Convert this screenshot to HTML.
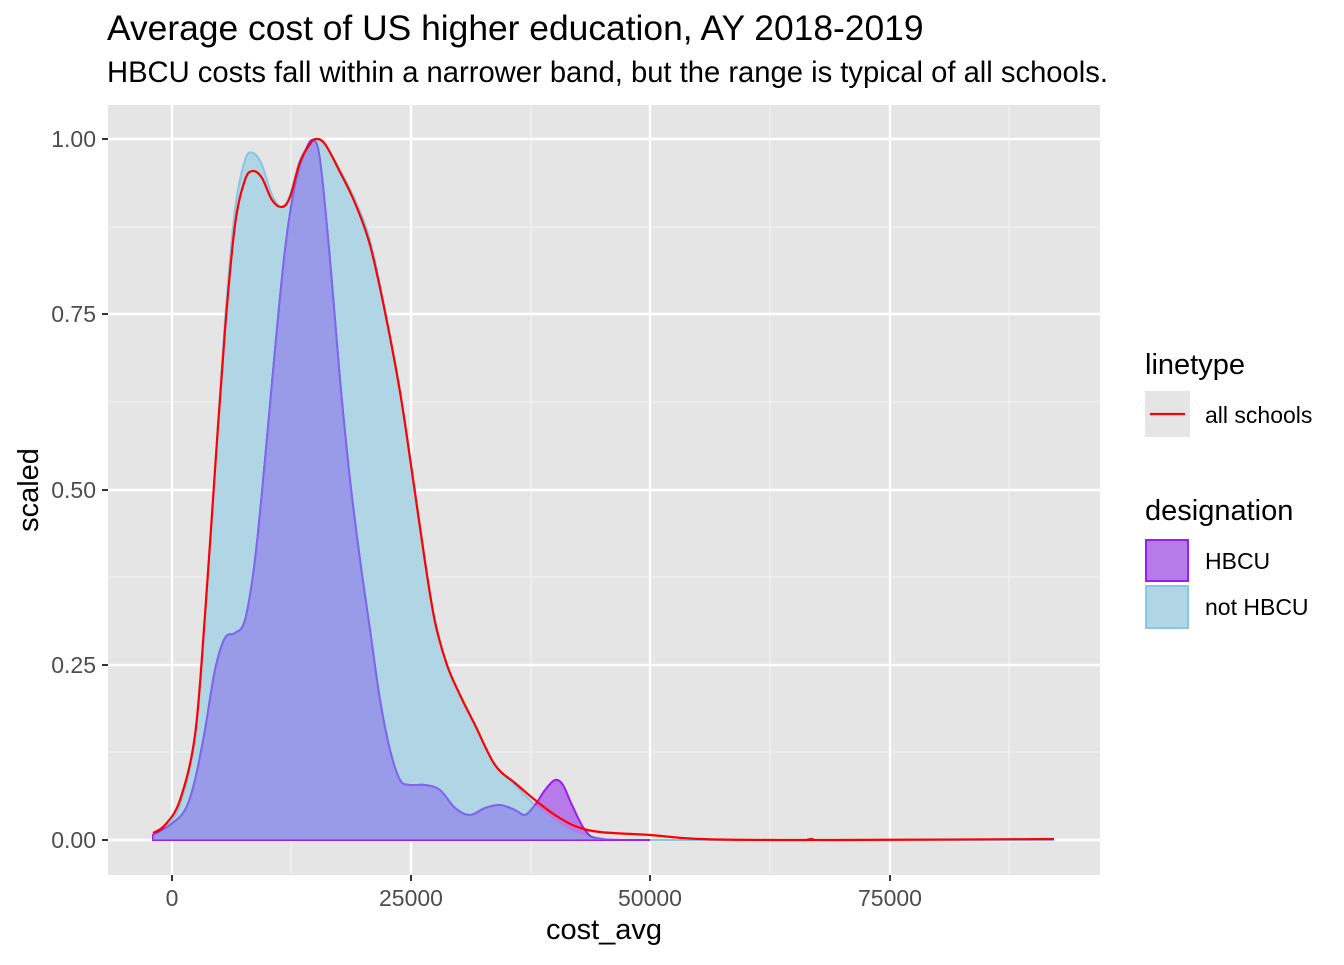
<!DOCTYPE html>
<html><head><meta charset="utf-8"><style>
html,body{margin:0;padding:0;background:#fff}
text{font-family:"Liberation Sans",Arial,sans-serif}
</style></head><body>
<svg id="s" width="1344" height="960" xmlns="http://www.w3.org/2000/svg">
<rect width="1344" height="960" fill="#fff"/>
<rect x="108" y="105" width="992" height="770" fill="#e5e5e5"/>
<g stroke="#f2f2f2" stroke-width="1.2">
<line x1="108" x2="1100" y1="227" y2="227"/><line x1="108" x2="1100" y1="402" y2="402"/><line x1="108" x2="1100" y1="577" y2="577"/><line x1="108" x2="1100" y1="752" y2="752"/>
<line y1="105" y2="875" x1="291" x2="291"/><line y1="105" y2="875" x1="531" x2="531"/><line y1="105" y2="875" x1="770" x2="770"/><line y1="105" y2="875" x1="1009" x2="1009"/>
</g>
<g stroke="#fff" stroke-width="2.4">
<line x1="108" x2="1100" y1="139" y2="139"/><line x1="108" x2="1100" y1="314" y2="314"/><line x1="108" x2="1100" y1="490" y2="490"/><line x1="108" x2="1100" y1="665" y2="665"/><line x1="108" x2="1100" y1="840" y2="840"/>
<line y1="105" y2="875" x1="172" x2="172"/><line y1="105" y2="875" x1="411" x2="411"/><line y1="105" y2="875" x1="650" x2="650"/><line y1="105" y2="875" x1="890" x2="890"/>
</g>
<defs><clipPath id="cb"><path id="cbp"/></clipPath></defs>
<path id="blue" fill="#b0d6e6" stroke="#87c6e6" stroke-width="2"/>
<path id="hb1" fill="#b77ae9" stroke="#9a1ef0" stroke-width="2"/>
<g clip-path="url(#cb)"><path id="hb2" fill="#999ae8" stroke="#7b68ee" stroke-width="2"/></g>
<path id="red" fill="none" stroke="#ff0000" stroke-width="2.2"/>
<g stroke="#333" stroke-width="2">
<line x1="102" x2="108" y1="139" y2="139"/><line x1="102" x2="108" y1="314" y2="314"/><line x1="102" x2="108" y1="490" y2="490"/><line x1="102" x2="108" y1="665" y2="665"/><line x1="102" x2="108" y1="840" y2="840"/>
<line y1="875" y2="881" x1="172" x2="172"/><line y1="875" y2="881" x1="411" x2="411"/><line y1="875" y2="881" x1="650" x2="650"/><line y1="875" y2="881" x1="890" x2="890"/>
</g>
<g fill="#4d4d4d" font-size="23" text-anchor="end">
<text x="96" y="147">1.00</text><text x="96" y="322">0.75</text><text x="96" y="498">0.50</text><text x="96" y="673">0.25</text><text x="96" y="848">0.00</text>
</g>
<g fill="#4d4d4d" font-size="23" text-anchor="middle">
<text x="172" y="906">0</text><text x="411" y="906">25000</text><text x="650" y="906">50000</text><text x="890" y="906">75000</text>
</g>
<text x="604" y="939" font-size="29" text-anchor="middle">cost_avg</text>
<text transform="translate(38,490) rotate(-90)" font-size="29" text-anchor="middle">scaled</text>
<text x="107" y="40" font-size="35.4">Average cost of US higher education, AY 2018-2019</text>
<text x="107" y="82" font-size="29.2">HBCU costs fall within a narrower band, but the range is typical of all schools.</text>
<text x="1145" y="374" font-size="29">linetype</text>
<rect x="1145" y="391" width="45" height="46" fill="#e5e5e5"/>
<line x1="1150" x2="1185" y1="414" y2="414" stroke="#ff0000" stroke-width="2.2"/>
<text x="1205" y="423" font-size="23">all schools</text>
<text x="1145" y="520" font-size="29">designation</text>
<rect x="1146" y="540" width="42" height="41" fill="#b77ae9" stroke="#9a1ef0" stroke-width="2"/>
<rect x="1146" y="586" width="42" height="42" fill="#b0d6e6" stroke="#87c6e6" stroke-width="2"/>
<text x="1205" y="569" font-size="23">HBCU</text>
<text x="1205" y="615" font-size="23">not HBCU</text>
</svg>
<script>
function cr(p){let d="M"+p[0][0]+","+p[0][1];for(let i=0;i<p.length-1;i++){const a=p[i-1]||p[i],b=p[i],c=p[i+1],e=p[i+2]||c;d+=" C"+(b[0]+(c[0]-a[0])/6)+","+(b[1]+(c[1]-a[1])/6)+" "+(c[0]-(e[0]-b[0])/6)+","+(c[1]-(e[1]-b[1])/6)+" "+c[0]+","+c[1];}return d;}
const blue=[[153,835],[165,828],[180,805],[195,740],[205,620],[215,470],[225,320],[235,210],[245,160],[253,153],[262,165],[272,195],[282,207],[290,195],[300,160],[310,143],[316,139],[325,145],[340,170],[355,200],[370,240],[385,310],[400,390],[412,470],[425,560],[435,620],[447,665],[460,695],[475,725],[495,765],[515,785],[535,805],[555,820],[575,832],[600,838],[650,840],[1054,840]];
const red=[[153,833],[165,825],[180,800],[195,735],[205,615],[215,470],[225,330],[235,225],[245,180],[253,171],[262,178],[272,200],[282,207],[290,197],[300,162],[310,144],[316,139],[325,144],[340,172],[355,203],[370,245],[385,312],[400,392],[412,472],[425,562],[435,622],[447,665],[460,695],[475,725],[495,765],[515,783],[535,800],[555,815],[575,826],[600,832],[650,835],[700,839],[800,840],[812,839],[830,840],[1054,839]];
const hb=[[153,835],[170,825],[185,810],[195,780],[205,730],[215,670],[225,638],[235,633],[245,620],[255,560],[265,460],[275,350],[285,250],[295,185],[305,152],[313,140],[320,160],[330,260],[340,380],[350,480],[360,560],[370,630],[380,700],[390,750],[400,780],[410,785],[425,785],[440,790],[455,808],[470,815],[485,808],[500,805],[515,810],[525,815],[535,805],[545,790],[555,780],[563,785],[572,805],[585,830],[600,839],[650,840]];
const bd=cr(blue)+" L1054,840 L153,840 Z";
document.getElementById("blue").setAttribute("d",bd);
document.getElementById("cbp").setAttribute("d",bd);
const hd=cr(hb)+" L153,840 Z";
document.getElementById("hb1").setAttribute("d",hd);
document.getElementById("hb2").setAttribute("d",hd);
document.getElementById("red").setAttribute("d",cr(red));
</script>
</body></html>
